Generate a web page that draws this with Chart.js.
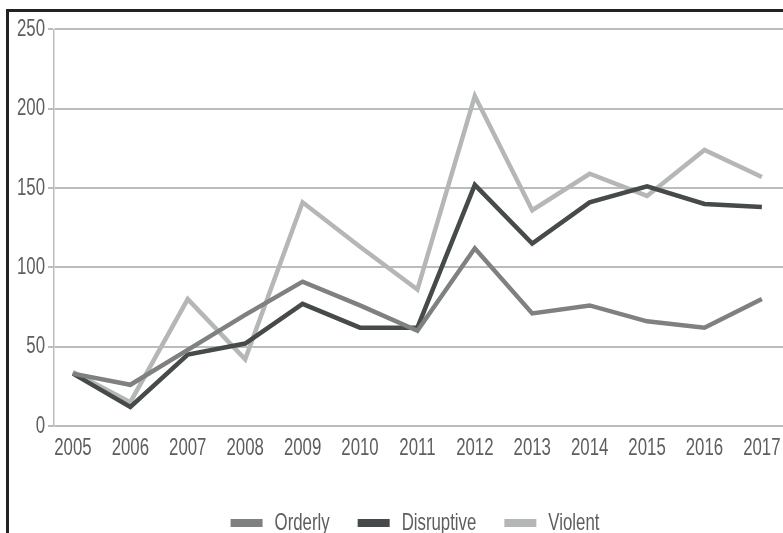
<!DOCTYPE html>
<html>
<head>
<meta charset="utf-8">
<script src="https://cdn.jsdelivr.net/npm/chart.js@4/dist/chart.umd.min.js"></script>
<style>
  html, body { margin: 0; padding: 0; background: #fff; overflow: hidden; width: 783px; height: 533px; }
  #frame {
    position: absolute; left: 6px; top: 9px;
    width: 812px; height: 533px;
    border-left: 3px solid #222; border-top: 3px solid #222;
  }
  canvas { display: block; }
</style>
</head>
<body>
<div id="frame"><canvas id="chart" width="812" height="533"></canvas></div>
<script>
const years = [2005, 2006, 2007, 2008, 2009, 2010, 2011, 2012, 2013, 2014, 2015, 2016, 2017];
const orderly = [33, 26, 48, 70, 91, 76, 60, 112, 71, 76, 66, 62, 80];
const disruptive = [33, 12, 45, 52, 77, 62, 62, 152, 115, 141, 151, 140, 138];
const violent = [34, 15, 80, 42, 141, 113, 86, 208, 136, 159, 145, 174, 157];
const yTicks = [0, 50, 100, 150, 200, 250];

const font = "'Liberation Sans', Arial, sans-serif";
const squeeze = 0.7; // the original uses a condensed face

const ctx = document.getElementById('chart').getContext('2d');

// narrow all text the chart draws
const rawFill = ctx.fillText.bind(ctx);
const rawMeasure = ctx.measureText.bind(ctx);
ctx.fillText = (t, x, y, w) => {
  ctx.save();
  ctx.translate(x, y);
  ctx.scale(squeeze, 1);
  if (w === undefined) rawFill(t, 0, 0); else rawFill(t, 0, 0, w / squeeze);
  ctx.restore();
};
ctx.measureText = t => {
  const m = rawMeasure(t);
  return {
    width: m.width * squeeze,
    actualBoundingBoxAscent: m.actualBoundingBoxAscent,
    actualBoundingBoxDescent: m.actualBoundingBoxDescent,
    actualBoundingBoxLeft: m.actualBoundingBoxLeft * squeeze,
    actualBoundingBoxRight: m.actualBoundingBoxRight * squeeze
  };
};

const series = (label, values, color) => ({
  label,
  data: values.map((v, i) => ({ x: years[i], y: v })),
  borderColor: color,
  backgroundColor: color,
  borderWidth: 4.5,
  borderJoinStyle: 'miter',
  pointRadius: 0,
  tension: 0
});

const defaultLabels = Chart.defaults.plugins.legend.labels.generateLabels;

new Chart(ctx, {
  type: 'line',
  data: {
    datasets: [
      series('Orderly', orderly, '#7f8181'),
      series('Disruptive', disruptive, '#464a4a'),
      series('Violent', violent, '#b5b7b7')
    ]
  },
  options: {
    responsive: false,
    animation: false,
    layout: { padding: { top: 16, right: 0, bottom: 0, left: 0 } },
    plugins: {
      tooltip: { enabled: false },
      legend: {
        position: 'bottom',
        labels: {
          font: { family: font, size: 24 },
          color: '#5e5e5e',
          boxWidth: 32,
          boxHeight: 8,
          padding: 28,
          generateLabels: chart => defaultLabels(chart).map(l => ({ ...l, lineWidth: 0 }))
        }
      }
    },
    scales: {
      x: {
        type: 'linear',
        min: 2004.67,
        max: 2018.03,
        afterBuildTicks: s => { s.ticks = years.map(v => ({ value: v })); },
        afterFit: s => { s.height = 57; s.paddingLeft = 0; s.paddingRight = 0; },
        grid: { display: false, drawTicks: false },
        border: { display: false },
        ticks: {
          font: { family: font, size: 24 },
          color: '#5e5e5e',
          padding: 8,
          maxRotation: 0,
          autoSkip: false,
          callback: v => String(v)
        }
      },
      y: {
        min: 0,
        max: 250,
        afterBuildTicks: s => { s.ticks = yTicks.map(v => ({ value: v })); },
        afterFit: s => { s.width = 45; },
        grid: { color: '#bbbdbd', lineWidth: 2, tickLength: 6 },
        border: { color: '#bbbdbd', width: 1.5 },
        ticks: {
          font: { family: font, size: 24 },
          color: '#5e5e5e',
          padding: 3
        }
      }
    }
  }
});
</script>
</body>
</html>
